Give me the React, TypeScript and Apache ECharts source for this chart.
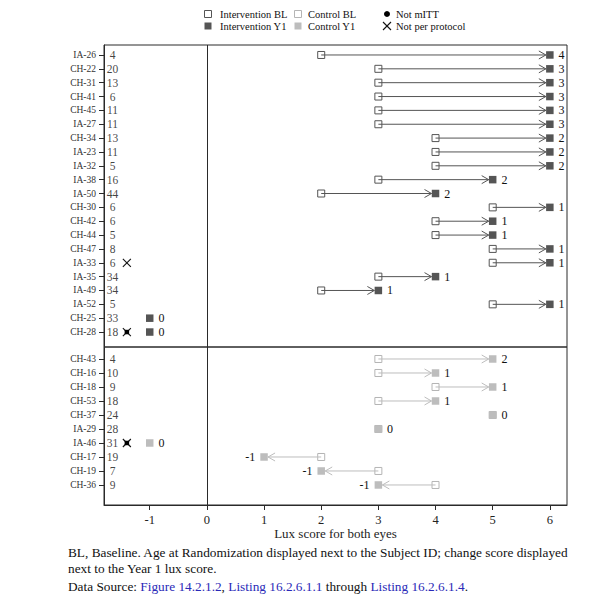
import React, { useEffect, useRef } from "react";
import * as echarts from "echarts";

// ---------- data ----------
const topIds = ["IA-26","CH-22","CH-31","CH-41","CH-45","IA-27","CH-34","IA-23","IA-32","IA-38","IA-50","CH-30","CH-42","CH-44","CH-47","IA-33","IA-35","IA-49","IA-52","CH-25","CH-28"];
const topAges = [4,20,13,6,11,11,13,11,5,16,44,6,6,5,8,6,34,34,5,33,18];
const topBL: (number | null)[] = [2,3,3,3,3,3,4,4,4,3,2,5,4,4,5,5,3,2,5,null,null];
const topY1 = [6,6,6,6,6,6,6,6,6,5,4,6,5,5,6,6,4,3,6,-1,-1];
const topChange = [4,3,3,3,3,3,2,2,2,2,2,1,1,1,1,1,1,1,1,0,0];
const topNotPP = ["IA-33","CH-28"];
const topNotMITT = ["CH-28"];

const botIds = ["CH-43","CH-16","CH-18","CH-53","CH-37","IA-29","IA-46","CH-17","CH-19","CH-36"];
const botAges = [4,10,9,18,24,28,31,19,7,9];
const botBL: (number | null)[] = [3,3,4,3,5,3,null,2,3,4];
const botY1 = [5,4,5,4,5,3,-1,1,2,3];
const botChange = [2,1,1,1,0,0,0,-1,-1,-1];
const botNotPP = ["IA-46"];
const botNotMITT = ["IA-46"];

const xTicks = [-1,0,1,2,3,4,5,6];

// ---------- style constants ----------
const X_MIN = -1.8;
const X_MAX = 6.3;
const FLAG_X = -1.4;
const SERIF = "'Liberation Serif', 'DejaVu Serif', serif";
const INT_DARK = "#555555";
const CTRL_LIGHT = "#bdbdbd";
const FRAME = "#2a2a2a";

function panelSeries(
  g: number,
  ids: string[],
  ages: number[],
  bl: (number | null)[],
  y1: number[],
  change: number[],
  notPP: string[],
  notMITT: string[],
  color: string,
  blBorder: string
) {
  const series: any[] = [];
  series.push({
    type: "scatter",
    xAxisIndex: g,
    yAxisIndex: g,
    symbolSize: 0,
    silent: true,
    z: 1,
    data: ages.map((a, i) => [X_MIN, i, a]),
    label: {
      show: true,
      position: [8.5, 0],
      align: "center",
      verticalAlign: "middle",
      formatter: (p: any) => String(p.value[2]),
      fontFamily: SERIF,
      fontSize: 11.5,
      color: "#111",
    },
    markLine: {
      silent: true,
      symbol: "none",
      label: { show: false },
      lineStyle: { color: FRAME, width: 1, type: "solid" },
      data: [{ xAxis: 0 }],
    },
  });
  // baseline squares
  series.push({
    type: "scatter",
    name: g === 0 ? "Intervention BL" : "Control BL",
    xAxisIndex: g,
    yAxisIndex: g,
    symbol: "rect",
    symbolSize: 7,
    z: 2,
    itemStyle: { color: "#ffffff", borderColor: blBorder, borderWidth: 1, opacity: 1 },
    data: bl.map((b, i) => (b === null ? null : [b, i])).filter((d) => d !== null),
  });
  // arrows
  series.push({
    type: "custom",
    xAxisIndex: g,
    yAxisIndex: g,
    z: 3,
    silent: true,
    encode: { x: [0, 1], y: 2 },
    data: bl
      .map((b, i) => (b === null || b === y1[i] ? null : [b, y1[i], i]))
      .filter((d) => d !== null),
    renderItem: (params: any, api: any) => {
      const b0 = api.value(0);
      const b1 = api.value(1);
      const r = api.value(2);
      const a = api.coord([b0, r]);
      const e = api.coord([b1, r]);
      const d = e[0] > a[0] ? 1 : -1;
      const tip = e[0] - d * 4;
      return {
        type: "group",
        children: [
          {
            type: "line",
            shape: { x1: a[0], y1: a[1], x2: tip, y2: e[1] },
            style: { stroke: color, lineWidth: 1 },
          },
          {
            type: "polyline",
            shape: {
              points: [
                [tip - d * 7, e[1] - 4],
                [tip, e[1]],
                [tip - d * 7, e[1] + 4],
              ],
            },
            style: { stroke: color, fill: "none", lineWidth: 1 },
          },
        ],
      };
    },
  });
  // year 1 squares
  series.push({
    type: "scatter",
    name: g === 0 ? "Intervention Y1" : "Control Y1",
    xAxisIndex: g,
    yAxisIndex: g,
    symbol: "rect",
    symbolSize: 7.5,
    z: 4,
    itemStyle: { color: color, opacity: 1 },
    data: y1.map((v, i) => ({
      value: [v, i, change[i]],
      label: { position: change[i] < 0 ? "left" : "right" },
    })),
    label: {
      show: true,
      distance: 5,
      formatter: (p: any) => String(p.value[2]),
      fontFamily: SERIF,
      fontSize: 12,
      color: "#111",
    },
  });
  series.push({
    type: "scatter",
    name: "Not per protocol",
    xAxisIndex: g,
    yAxisIndex: g,
    symbol: "path://M0,0L10,10M10,0L0,10",
    symbolSize: 8,
    z: 5,
    itemStyle: { color: "transparent", borderColor: "#111", borderWidth: 1.1, opacity: 1 },
    data: notPP.map((id) => [FLAG_X, ids.indexOf(id)]),
  });
  series.push({
    type: "scatter",
    name: "Not mITT",
    xAxisIndex: g,
    yAxisIndex: g,
    symbol: "rect",
    symbolSize: 4.5,
    z: 6,
    itemStyle: { color: "#000", opacity: 1 },
    data: notMITT.map((id) => [FLAG_X, ids.indexOf(id)]),
  });
  return series;
}

function yAxisFor(g: number, ids: string[], min: number, max: number) {
  const idx = ids.map((_, i) => i);
  return {
    type: "value",
    gridIndex: g,
    inverse: true,
    min,
    max,
    position: "left",
    axisLine: { show: true, onZero: false, lineStyle: { color: FRAME, width: 1 } },
    axisTick: { show: true, inside: false, customValues: idx, length: 5, lineStyle: { color: FRAME } },
    axisLabel: {
      customValues: idx,
      formatter: (v: number) => ids[Math.round(v)] ?? "",
      fontFamily: SERIF,
      fontSize: 9.5,
      color: "#333",
      margin: 8,
    },
    splitLine: { show: false },
  };
}

export default function App() {
  const ref = useRef<HTMLDivElement>(null);
  useEffect(() => {
    if (!ref.current) return;
    const chart = echarts.init(ref.current, undefined, { renderer: "svg" });
    const legendText = (x: number, y: number, t: string) => ({
      type: "text",
      x,
      y,
      style: { text: t, fontFamily: SERIF, fontSize: 10.5, fill: "#111", textVerticalAlign: "middle" },
    });
    const FOOT = 13.3;
    const option: any = {
      animation: false,
      backgroundColor: "#ffffff",
      grid: [
        { left: 104, right: 48, top: 45, height: 302, show: true, borderColor: FRAME, borderWidth: 1, backgroundColor: "transparent" },
        { left: 104, right: 48, top: 347, height: 158, show: true, borderColor: FRAME, borderWidth: 1, backgroundColor: "transparent" },
      ],
      xAxis: [
        { type: "value", gridIndex: 0, min: X_MIN, max: X_MAX, show: false, axisLine: { onZero: false }, splitLine: { show: false } },
        {
          type: "value",
          gridIndex: 1,
          min: X_MIN,
          max: X_MAX,
          position: "bottom",
          axisLine: { show: true, onZero: false, lineStyle: { color: FRAME } },
          axisTick: { show: true, customValues: xTicks, length: 5, lineStyle: { color: FRAME } },
          axisLabel: { customValues: xTicks, fontFamily: SERIF, fontSize: 12.5, color: "#222", margin: 8 },
          splitLine: { show: false },
          name: "Lux score for both eyes",
          nameLocation: "middle",
          nameGap: 22,
          nameTextStyle: { fontFamily: SERIF, fontSize: 13, color: "#222" },
        },
      ],
      yAxis: [yAxisFor(0, topIds, -0.72, 21.08), yAxisFor(1, botIds, -0.857, 10.43)],
      series: [
        ...panelSeries(0, topIds, topAges, topBL, topY1, topChange, topNotPP, topNotMITT, INT_DARK, "#555555"),
        ...panelSeries(1, botIds, botAges, botBL, botY1, botChange, botNotPP, botNotMITT, CTRL_LIGHT, "#b5b5b5"),
      ],
      graphic: [
        { type: "rect", shape: { x: 204.5, y: 10.5, width: 7, height: 7 }, style: { fill: "#fff", stroke: "#555", lineWidth: 1 } },
        { type: "rect", shape: { x: 204.5, y: 22.5, width: 7, height: 7 }, style: { fill: INT_DARK } },
        legendText(220, 14, "Intervention BL"),
        legendText(220, 26, "Intervention Y1"),
        { type: "rect", shape: { x: 294.5, y: 10.5, width: 7, height: 7 }, style: { fill: "#fff", stroke: "#b5b5b5", lineWidth: 1 } },
        { type: "rect", shape: { x: 294.5, y: 22.5, width: 7, height: 7 }, style: { fill: CTRL_LIGHT } },
        legendText(308, 14, "Control BL"),
        legendText(308, 26, "Control Y1"),
        { type: "circle", shape: { cx: 387, cy: 14, r: 3 }, style: { fill: "#000" } },
        { type: "line", shape: { x1: 383, y1: 22, x2: 391, y2: 30 }, style: { stroke: "#111", lineWidth: 1.1 } },
        { type: "line", shape: { x1: 391, y1: 22, x2: 383, y2: 30 }, style: { stroke: "#111", lineWidth: 1.1 } },
        legendText(396, 14, "Not mITT"),
        legendText(396, 26, "Not per protocol"),
        {
          type: "text",
          x: 68,
          y: 552,
          style: {
            text: "BL, Baseline. Age at Randomization displayed next to the Subject ID; change score displayed",
            fontFamily: SERIF,
            fontSize: FOOT,
            fill: "#111",
            textVerticalAlign: "middle",
          },
        },
        {
          type: "text",
          x: 68,
          y: 568,
          style: { text: "next to the Year 1 lux score.", fontFamily: SERIF, fontSize: FOOT, fill: "#111", textVerticalAlign: "middle" },
        },
        {
          type: "text",
          x: 68,
          y: 586,
          style: {
            text: "{k|Data Source: }{b|Figure 14.2.1.2}{k|, }{b|Listing 16.2.6.1.1}{k| through }{b|Listing 16.2.6.1.4}{k|.}",
            fontFamily: SERIF,
            fontSize: FOOT,
            textVerticalAlign: "middle",
            rich: {
              k: { fontFamily: SERIF, fontSize: FOOT, fill: "#111" },
              b: { fontFamily: SERIF, fontSize: FOOT, fill: "#2a2ab8" },
            },
          },
        },
      ],
    };
    chart.setOption(option);
    return () => chart.dispose();
  }, []);
  return (
    <div
      ref={ref}
      style={{ position: "fixed", left: 0, top: 0, width: 615, height: 603, background: "#fff" }}
    />
  );
}
